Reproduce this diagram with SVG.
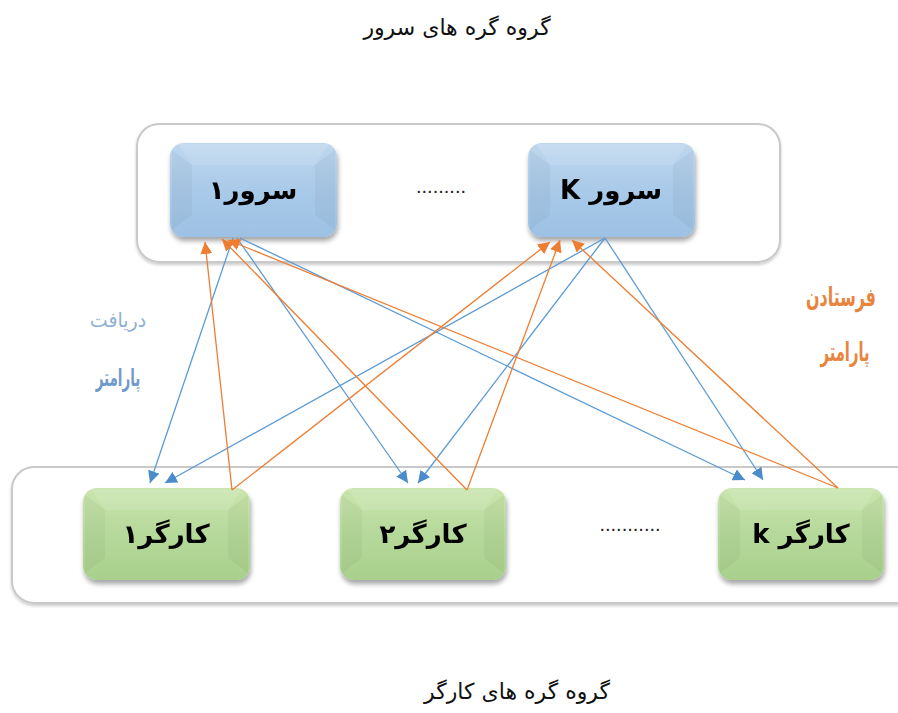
<svg xmlns="http://www.w3.org/2000/svg" width="898" height="713" viewBox="0 0 898 713">
<defs>
<linearGradient id="gBlue" x1="0" y1="0" x2="0" y2="1">
<stop offset="0" stop-color="#BFD7EE"/><stop offset="0.5" stop-color="#A9CAE9"/><stop offset="1" stop-color="#9DC1E4"/>
</linearGradient>
<linearGradient id="gGreen" x1="0" y1="0" x2="0" y2="1">
<stop offset="0" stop-color="#CAE5AE"/><stop offset="0.5" stop-color="#B5D99A"/><stop offset="1" stop-color="#A9D08C"/>
</linearGradient>
<filter id="sh" x="-10%" y="-10%" width="125%" height="130%">
<feGaussianBlur in="SourceAlpha" stdDeviation="2.5"/>
<feOffset dx="1" dy="4" result="o"/>
<feComponentTransfer><feFuncA type="linear" slope="0.35"/></feComponentTransfer>
<feMerge><feMergeNode/><feMergeNode in="SourceGraphic"/></feMerge>
</filter>
<filter id="sh2" x="-5%" y="-10%" width="110%" height="125%">
<feGaussianBlur in="SourceAlpha" stdDeviation="1.5"/>
<feOffset dx="0" dy="2"/>
<feComponentTransfer><feFuncA type="linear" slope="0.2"/></feComponentTransfer>
<feMerge><feMergeNode/><feMergeNode in="SourceGraphic"/></feMerge>
</filter>
<marker id="aB" viewBox="0 0 10 10" refX="10" refY="5" markerWidth="12" markerHeight="12" markerUnits="userSpaceOnUse" orient="auto">
<path d="M0,0 L10,5 L0,10 z" fill="#4A8CCB"/>
</marker>
<marker id="aO" viewBox="0 0 10 10" refX="10" refY="5" markerWidth="12" markerHeight="12" markerUnits="userSpaceOnUse" orient="auto">
<path d="M0,0 L10,5 L0,10 z" fill="#ED7D31"/>
</marker>
</defs>
<style>
.grp{fill:#fff;stroke:#C9C9C9;stroke-width:2}
.node text{font-family:"DejaVu Sans","Noto Sans",sans-serif;font-size:26px;font-weight:bold;fill:#000;direction:rtl;unicode-bidi:embed}
.bev{fill:#fff;opacity:0.12}
.bevd{fill:#000;opacity:0.035}
.title{font-family:"DejaVu Sans","Noto Sans",sans-serif;font-size:22px;fill:#111;direction:rtl;unicode-bidi:embed}
.dots{font-family:"Liberation Sans",sans-serif;font-size:20px;fill:#222}
.blue{stroke:#5B9BD5;stroke-width:1.3;fill:none;marker-end:url(#aB)}
.orange{stroke:#ED7D31;stroke-width:1.3;fill:none;marker-end:url(#aO)}
.lbl{font-family:"DejaVu Sans","Noto Sans",sans-serif;direction:rtl;unicode-bidi:embed;font-weight:bold}
</style>
<rect width="898" height="713" fill="#fff"/>

<text class="title" x="457" y="35" text-anchor="middle" font-size="23">گروه گره های سرور</text>
<text class="title" x="517" y="699" text-anchor="middle">گروه گره های کارگر</text>

<g id="server-group"><rect class="grp" x="137" y="124" width="643" height="138" rx="22" filter="url(#sh2)"/></g>
<g id="worker-group"><rect class="grp" x="12" y="467" width="910" height="136" rx="22" filter="url(#sh2)"/></g>

<g id="server1" class="node" filter="url(#sh)">
<rect x="170" y="143" width="167" height="94" rx="14" fill="url(#gBlue)"/>
<path class="bevd" d="M172,150 L192,165 L192,215 L172,230 Z"/>
<path class="bevd" d="M335,150 L315,165 L315,215 L335,230 Z"/>
<path class="bev" d="M178,144 L329,144 L315,165 L192,165 Z"/>
<text x="253" y="199" text-anchor="middle">سرور۱</text>
</g>
<g id="serverK" class="node" filter="url(#sh)">
<rect x="528" y="143" width="167" height="94" rx="14" fill="url(#gBlue)"/>
<path class="bevd" d="M530,150 L550,165 L550,215 L530,230 Z"/>
<path class="bevd" d="M693,150 L673,165 L673,215 L693,230 Z"/>
<path class="bev" d="M536,144 L687,144 L673,165 L550,165 Z"/>
<text x="611" y="199" text-anchor="middle">سرور K</text>
</g>
<text class="dots" x="441" y="193" text-anchor="middle">.........</text>

<g id="worker1" class="node" filter="url(#sh)">
<rect x="83" y="488" width="167" height="92" rx="14" fill="url(#gGreen)"/>
<path class="bevd" d="M85,495 L105,510 L105,558 L85,573 Z"/>
<path class="bevd" d="M248,495 L228,510 L228,558 L248,573 Z"/>
<path class="bev" d="M91,489 L242,489 L228,510 L105,510 Z"/>
<text x="166" y="543" text-anchor="middle">کارگر۱</text>
</g>
<g id="worker2" class="node" filter="url(#sh)">
<rect x="340" y="488" width="166" height="92" rx="14" fill="url(#gGreen)"/>
<path class="bevd" d="M342,495 L362,510 L362,558 L342,573 Z"/>
<path class="bevd" d="M504,495 L484,510 L484,558 L504,573 Z"/>
<path class="bev" d="M348,489 L498,489 L484,510 L362,510 Z"/>
<text x="423" y="543" text-anchor="middle">کارگر۲</text>
</g>
<g id="workerk" class="node" filter="url(#sh)">
<rect x="718" y="488" width="166" height="92" rx="14" fill="url(#gGreen)"/>
<path class="bevd" d="M720,495 L740,510 L740,558 L720,573 Z"/>
<path class="bevd" d="M882,495 L862,510 L862,558 L882,573 Z"/>
<path class="bev" d="M726,489 L876,489 L862,510 L740,510 Z"/>
<text x="801" y="543" text-anchor="middle">کارگر k</text>
</g>
<text class="dots" x="630" y="531" text-anchor="middle">...........</text>

<g id="connectors">
<path class="blue" d="M233,238 L150,483"/>
<path class="blue" d="M237,238 L408,483"/>
<path class="blue" d="M240,238 L745,480"/>
<path class="blue" d="M605,238 L165,483"/>
<path class="blue" d="M605,238 L418,483"/>
<path class="blue" d="M605,238 L763,480"/>
<path class="orange" d="M232,490 L205,242"/>
<path class="orange" d="M232,490 L550,242"/>
<path class="orange" d="M467,490 L222,239"/>
<path class="orange" d="M467,490 L560,240"/>
<path class="orange" d="M838,488 L228,240"/>
<path class="orange" d="M838,488 L572,240"/>
</g>

<g id="labels">
<text class="lbl" transform="translate(118,327) scale(0.95,1)" text-anchor="middle" font-size="20" fill="#8FB0D2" style="font-weight:normal">دریافت</text>
<text class="lbl" transform="translate(118,386) scale(0.56,1)" text-anchor="middle" font-size="24" fill="#6F9BCB">پارامتر</text>
<text class="lbl" transform="translate(841,306) scale(0.61,1)" text-anchor="middle" font-size="26" fill="#E8843E">فرستادن</text>
<text class="lbl" transform="translate(845,361) scale(0.57,1)" text-anchor="middle" font-size="26" fill="#E8843E">پارامتر</text>
</g>
</svg>
